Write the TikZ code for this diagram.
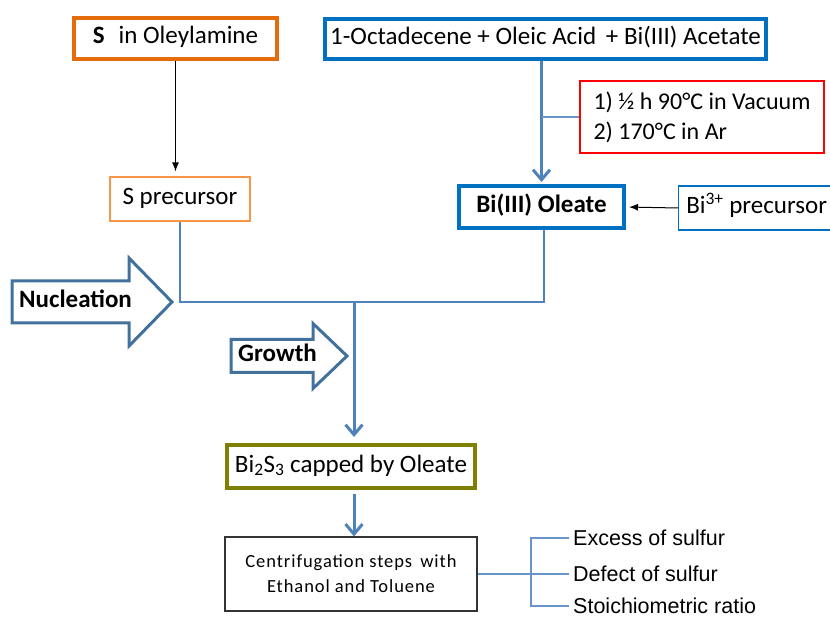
\documentclass[tikz,border=0pt]{standalone}
\usepackage{fontspec}
\setmainfont{Carlito}
\newfontfamily\listfont{Liberation Sans}
\newfontfamily\centfont[LetterSpace=5]{Carlito}
\usetikzlibrary{arrows.meta}
\definecolor{sulfurOrange}{HTML}{E46C0A}
\definecolor{precOrange}{HTML}{F79646}
\definecolor{bismuthBlue}{HTML}{0070C0}
\definecolor{flowBlue}{HTML}{4F81BD}
\definecolor{stageBlue}{HTML}{41719C}
\definecolor{capOlive}{HTML}{7F7F00}
\definecolor{heatRed}{HTML}{FF0000}
\newcommand{\drawStageArrow}[8]{
  % #1 name, #2 left, #3 head start, #4 tip, #5 mid y, #6 shaft half, #7 head half, #8 text
  \draw[stagearrow] (#2,#5-#6) -- (#3,#5-#6) -- (#3,#5-#7) -- (#4,#5)
    -- (#3,#5+#7) -- (#3,#5+#6) -- (#2,#5+#6) -- cycle;
  \node[stagelabel, anchor=west] (#1) at (#2+7,#5) {#8};
}

\begin{document}
\begin{tikzpicture}[x=1pt, y=-1pt,
  box/.style={draw, fill=white, inner sep=0pt, text height=17pt, text depth=6pt,
    font=\fontsize{25}{30}\selectfont},
  thickbox/.style={box, line width=4pt},
  thinbox/.style={box, line width=1.2pt},
  thinarrow/.style={-{Latex[length=9pt, width=7pt]}, line width=1pt, black},
  mainarrow/.style={-{Straight Barb[length=10pt, width=17pt, line width=3pt]}, line width=3pt, flowBlue},
  flowline/.style={line width=2.5pt, flowBlue},
  thinline/.style={line width=1.2pt, flowBlue!85},
  stagearrow/.style={line width=3pt, stageBlue, fill=white, line join=miter},
  stagelabel/.style={inner sep=0pt, text height=17pt, text depth=6pt, font=\fontsize{25}{30}\selectfont\bfseries},
  listlabel/.style={inner sep=0pt, anchor=west, font=\listfont\fontsize{21.5}{26}\selectfont}]
  \useasboundingbox (0,0) rectangle (830,617);

  % starting materials
  \node[thickbox, draw=sulfurOrange, minimum width=203, minimum height=41] (sulfur) at (175.5,38.5) {\textbf{S}\,\, in Oleylamine};
  \node[thickbox, draw=bismuthBlue, minimum width=441, minimum height=40] (mix) at (545.5,39) {1-Octadecene + Oleic Acid\, + Bi(III) Acetate};
  \node[thinbox, draw=heatRed, minimum width=244, minimum height=72, align=left,
    text height=, text depth=, font=\fontsize{24}{30}\selectfont] (heat) at (702,117) {1) ½ h 90°C in Vacuum\\2) 170°C in Ar};

  % precursors
  \node[thinbox, draw=precOrange, minimum width=140, minimum height=44] (sprec) at (180,199) {S precursor};
  \node[thickbox, draw=bismuthBlue, minimum width=165, minimum height=42] (oleate) at (541.5,207) {\textbf{Bi(III) Oleate}};
  \node[thinbox, draw=bismuthBlue, minimum width=170, minimum height=44, anchor=west] (biprec) at (678,208) {\hspace*{-14pt}Bi\textsuperscript{3+} precursor};

  % product and work-up
  \node[thickbox, draw=capOlive, minimum width=248, minimum height=43] (capped) at (351,466.5) {Bi\textsubscript{2}S\textsubscript{3} capped by Oleate};
  \node[thinbox, draw=black!80, minimum width=252, minimum height=74, align=center,
    text height=, text depth=, font=\centfont\fontsize{18.5}{25}\selectfont] (centri) at (351,574) {Centrifugation steps\, with\\Ethanol and Toluene};

  \node[listlabel] (excess) at (573,538) {Excess of sulfur};
  \node[listlabel] (defect) at (573,574) {Defect of sulfur};
  \node[listlabel] (ratio) at (573,606) {Stoichiometric ratio};

  \coordinate (join) at (354,302);
  \coordinate (fork) at (531,574);

  % connectors
  \draw[thinarrow, shorten >=5pt] (sulfur.south) -- (sulfur.south |- sprec.north);
  \draw[mainarrow, shorten >=2pt] (oleate.north |- mix.south) -- (oleate.north);
  \draw[thinline] (heat.west) -- (heat.west -| oleate.north);
  \draw[thinarrow, shorten >=3pt] (biprec.west) -- (oleate.east);
  \draw[flowline] (sprec.south) |- (join) -| ([xshift=2.5pt]oleate.south);
  \draw[mainarrow, shorten >=6pt] (join) -- (join |- capped.north);
  \draw[mainarrow, shorten <=4pt] (join |- capped.south) -- (join |- centri.north);
  \draw[thinline] (centri.east) -- ([xshift=-4pt]defect.west);
  \draw[thinline] ([xshift=-4pt]excess.west) -| (fork) |- ([xshift=-4pt]ratio.west);

  % stage arrows
  \drawStageArrow{nucleation}{12}{129}{172}{302}{21}{44}{Nucleation}
  \drawStageArrow{growth}{231}{313}{347}{356}{16.5}{32.5}{Growth}
\end{tikzpicture}
\end{document}
